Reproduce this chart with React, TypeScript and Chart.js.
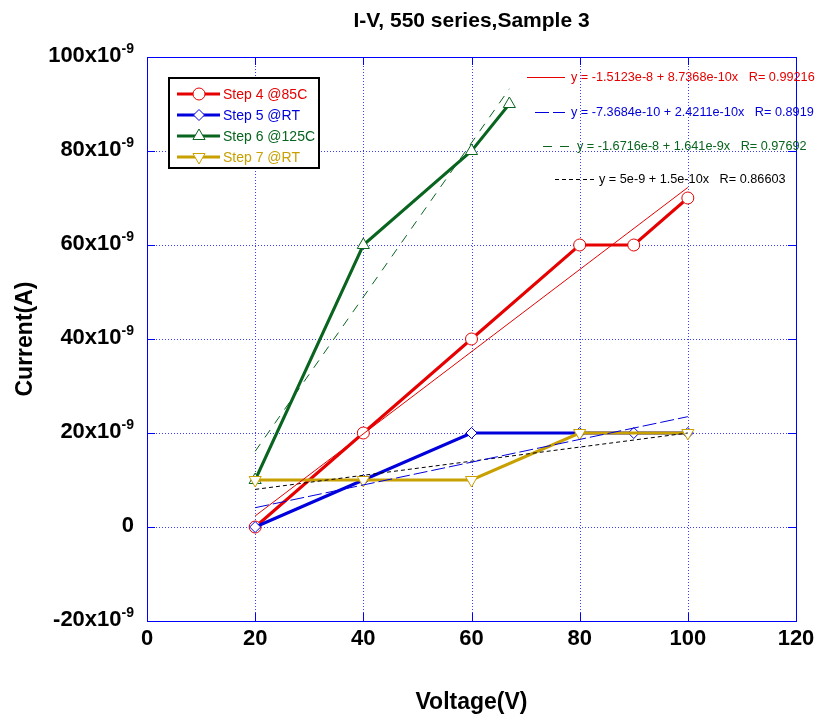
import React, { useEffect, useRef } from 'react';
import { Chart, registerables } from 'chart.js';

Chart.register(...registerables);

const chartTitle = 'I-V, 550 series,Sample 3';
const xAxisTitle = 'Voltage(V)';
const yAxisTitle = 'Current(A)';
const xTickValues = [0, 20, 40, 60, 80, 100, 120];
const yTickMantissas = [-20, 0, 20, 40, 60, 80, 100];
const yTickExponent = '-9';

const seriesNames = ['Step 4 @85C', 'Step 5 @RT', 'Step 6 @125C', 'Step 7 @RT'];
const seriesColors = ['#e60000', '#0000dc', '#08641e', '#c8a000'];
const seriesMarkers = ['circle', 'rectRot', 'triangle', 'triangle'];
const seriesMarkerRotation = [0, 0, 0, 180];
const seriesMarkerRadius = [6, 5.5, 7, 7];

const step4Voltage = [20, 40, 60, 80, 90, 100];
const step4Current = [0, 20e-9, 40e-9, 60e-9, 60e-9, 70e-9];
const step5Voltage = [20, 40, 60, 80, 90, 100];
const step5Current = [0, 10e-9, 20e-9, 20e-9, 20e-9, 20e-9];
const step6Voltage = [20, 40, 60, 67];
const step6Current = [10e-9, 60e-9, 80e-9, 90e-9];
const step7Voltage = [20, 40, 60, 80, 100];
const step7Current = [10e-9, 10e-9, 10e-9, 20e-9, 20e-9];

const fitIntercepts = [-1.5123e-8, -7.3684e-10, -1.6716e-8, 5e-9];
const fitSlopes = [8.7368e-10, 2.4211e-10, 1.641e-9, 1.5e-10];
const fitStartV = [20, 20, 20, 20];
const fitEndV = [100, 100, 67, 100];
const fitColors = ['#e60000', '#0000dc', '#08641e', '#000000'];
const fitDashes = [[], [14, 4], [9, 8], [4, 3]];
const fitLabels = [
  'y = -1.5123e-8 + 8.7368e-10x   R= 0.99216',
  'y = -7.3684e-10 + 2.4211e-10x   R= 0.8919',
  'y = -1.6716e-8 + 1.641e-9x   R= 0.97692',
  'y = 5e-9 + 1.5e-10x   R= 0.86603',
];

const FONT = '"Liberation Sans", Arial, Helvetica, sans-serif';
const GRID_COLOR = '#3c3cff';

const voltages = [step4Voltage, step5Voltage, step6Voltage, step7Voltage];
const currents = [step4Current, step5Current, step6Current, step7Current];

function drawMarker(ctx: CanvasRenderingContext2D, style: string, x: number, y: number, r: number, color: string, rotDeg: number) {
  ctx.save();
  ctx.translate(x, y);
  ctx.rotate((rotDeg * Math.PI) / 180);
  ctx.beginPath();
  if (style === 'circle') {
    ctx.arc(0, 0, r, 0, Math.PI * 2);
  } else if (style === 'rectRot') {
    ctx.moveTo(0, -r);
    ctx.lineTo(r, 0);
    ctx.lineTo(0, r);
    ctx.lineTo(-r, 0);
    ctx.closePath();
  } else {
    for (let k = 0; k < 3; k++) {
      const a = (k * 2 * Math.PI) / 3;
      const px = Math.sin(a) * r;
      const py = -Math.cos(a) * r;
      if (k === 0) ctx.moveTo(px, py);
      else ctx.lineTo(px, py);
    }
    ctx.closePath();
  }
  ctx.fillStyle = '#ffffff';
  ctx.fill();
  ctx.strokeStyle = color;
  ctx.lineWidth = 1;
  ctx.stroke();
  ctx.restore();
}

function baseLabel(m: number) {
  return m === 0 ? '0' : `${m}x10`;
}

const decorPlugin = {
  id: 'decor',
  beforeDatasetsDraw(chart: any) {
    const ctx: CanvasRenderingContext2D = chart.ctx;
    const area = chart.chartArea;
    const xs = chart.scales.x;
    const ys = chart.scales.y;
    ctx.save();
    ctx.strokeStyle = GRID_COLOR;
    ctx.lineWidth = 1;
    ctx.setLineDash([1, 2]);
    ctx.beginPath();
    xs.ticks.forEach((t: any) => {
      const px = Math.round(xs.getPixelForValue(t.value)) + 0.5;
      ctx.moveTo(px, area.top);
      ctx.lineTo(px, area.bottom);
    });
    ys.ticks.forEach((t: any) => {
      const py = Math.round(ys.getPixelForValue(t.value)) + 0.5;
      ctx.moveTo(area.left, py);
      ctx.lineTo(area.right, py);
    });
    ctx.stroke();
    ctx.restore();
  },
  afterDraw(chart: any) {
    const ctx: CanvasRenderingContext2D = chart.ctx;
    const area = chart.chartArea;
    const xs = chart.scales.x;
    const ys = chart.scales.y;
    ctx.save();

    // frame
    ctx.strokeStyle = '#0000ff';
    ctx.lineWidth = 1;
    ctx.setLineDash([]);
    ctx.strokeRect(Math.round(area.left) + 0.5, Math.round(area.top) + 0.5, Math.round(area.right - area.left), Math.round(area.bottom - area.top));

    // inward ticks
    ctx.beginPath();
    xs.ticks.forEach((t: any) => {
      const px = Math.round(xs.getPixelForValue(t.value)) + 0.5;
      ctx.moveTo(px, area.bottom);
      ctx.lineTo(px, area.bottom - 8);
      ctx.moveTo(px, area.top);
      ctx.lineTo(px, area.top + 8);
    });
    ys.ticks.forEach((t: any) => {
      const py = Math.round(ys.getPixelForValue(t.value)) + 0.5;
      ctx.moveTo(area.left, py);
      ctx.lineTo(area.left + 8, py);
      ctx.moveTo(area.right, py);
      ctx.lineTo(area.right - 8, py);
    });
    ctx.stroke();

    // x tick labels
    ctx.fillStyle = '#000000';
    ctx.font = `bold 22px ${FONT}`;
    ctx.textAlign = 'center';
    ctx.textBaseline = 'alphabetic';
    xs.ticks.forEach((t: any, i: number) => {
      const px = xs.getPixelForValue(t.value);
      const label = String(xTickValues[i] ?? Math.round(t.value));
      ctx.fillText(label, px, area.bottom + 24);
    });

    // y tick labels with superscript exponent
    ctx.textAlign = 'left';
    const rightEdge = area.left - 13;
    ys.ticks.forEach((t: any, i: number) => {
      const py = ys.getPixelForValue(t.value);
      const m = yTickMantissas[i] ?? Math.round(t.value * 1e9);
      const base = baseLabel(m);
      ctx.font = `bold 22px ${FONT}`;
      const wBase = ctx.measureText(base).width;
      let wSup = 0;
      if (m !== 0) {
        ctx.font = `bold 14px ${FONT}`;
        wSup = ctx.measureText(yTickExponent).width;
      }
      const x0 = rightEdge - wBase - wSup;
      ctx.font = `bold 22px ${FONT}`;
      ctx.fillText(base, x0, py + 5);
      if (m !== 0) {
        ctx.font = `bold 14px ${FONT}`;
        ctx.fillText(yTickExponent, x0 + wBase, py - 4);
      }
    });

    // title
    ctx.font = `bold 21px ${FONT}`;
    ctx.textAlign = 'center';
    ctx.fillText(chartTitle, (area.left + area.right) / 2, 27);

    // legend
    const lx = 169, ly = 78, lw = 150, lh = 90;
    ctx.fillStyle = '#ffffff';
    ctx.fillRect(lx, ly, lw, lh);
    ctx.strokeStyle = '#000000';
    ctx.lineWidth = 2;
    ctx.strokeRect(lx, ly, lw, lh);
    const rowYs = [94, 115, 136, 157];
    ctx.font = `14px ${FONT}`;
    ctx.textAlign = 'left';
    ctx.textBaseline = 'middle';
    seriesNames.forEach((name, i) => {
      const ry = rowYs[i];
      ctx.strokeStyle = seriesColors[i];
      ctx.lineWidth = 3;
      ctx.beginPath();
      ctx.moveTo(177, ry);
      ctx.lineTo(220, ry);
      ctx.stroke();
      drawMarker(ctx, seriesMarkers[i], 199, ry, seriesMarkerRadius[i], seriesColors[i], seriesMarkerRotation[i]);
      ctx.fillStyle = seriesColors[i];
      ctx.fillText(name, 223, ry + 1);
    });

    // fit annotations
    const annY = [77, 112, 146, 179];
    const annLineX0 = [527, 535, 543, 555];
    const annLineX1 = [565, 565, 573, 595];
    const annTextX = [571, 571, 577, 599];
    ctx.font = `12.7px ${FONT}`;
    fitLabels.forEach((txt, i) => {
      ctx.strokeStyle = fitColors[i];
      ctx.lineWidth = 1;
      ctx.setLineDash(fitDashes[i]);
      ctx.beginPath();
      ctx.moveTo(annLineX0[i], annY[i] + 0.5);
      ctx.lineTo(annLineX1[i], annY[i] + 0.5);
      ctx.stroke();
      ctx.setLineDash([]);
      ctx.fillStyle = fitColors[i];
      ctx.fillText(txt, annTextX[i], annY[i]);
    });

    ctx.restore();
  },
};

export default function App() {
  const ref = useRef<HTMLCanvasElement | null>(null);
  useEffect(() => {
    if (!ref.current) return;
    const dataSets: any[] = [];
    // fit lines, drawn on top of the data
    fitIntercepts.forEach((a, i) => {
      const b = fitSlopes[i];
      dataSets.push({
        label: 'fit ' + seriesNames[i],
        data: [
          { x: fitStartV[i], y: a + b * fitStartV[i] },
          { x: fitEndV[i], y: a + b * fitEndV[i] },
        ],
        showLine: true,
        borderColor: fitColors[i],
        borderWidth: 1,
        borderDash: fitDashes[i],
        pointRadius: 0,
        order: 0,
      });
    });
    seriesNames.forEach((name, i) => {
      dataSets.push({
        label: name,
        data: voltages[i].map((v, k) => ({ x: v, y: currents[i][k] })),
        showLine: true,
        borderColor: seriesColors[i],
        borderWidth: 3,
        pointStyle: seriesMarkers[i],
        pointRotation: seriesMarkerRotation[i],
        pointRadius: seriesMarkerRadius[i],
        pointBackgroundColor: '#ffffff',
        pointBorderColor: seriesColors[i],
        pointBorderWidth: 1,
        order: 4 - i,
      });
    });
    const chart = new Chart(ref.current, {
      type: 'scatter',
      data: { datasets: dataSets },
      options: {
        responsive: false,
        animation: false,
        events: [],
        layout: { padding: { top: 57, right: 22, left: 0, bottom: 0 } },
        plugins: { legend: { display: false }, tooltip: { enabled: false }, title: { display: false } },
        scales: {
          x: {
            type: 'linear',
            min: 0,
            max: 120,
            ticks: { stepSize: 20, display: false },
            grid: { display: false },
            border: { display: false },
            title: { display: true, text: xAxisTitle, color: '#000', font: { family: FONT, size: 23, weight: 'bold' }, padding: { top: 0, bottom: 5 } },
            afterFit: (s: any) => { s.height = 100; },
          },
          y: {
            type: 'linear',
            min: -20e-9,
            max: 100e-9,
            ticks: { stepSize: 20e-9, display: false },
            grid: { display: false },
            border: { display: false },
            title: { display: true, text: yAxisTitle, color: '#000', font: { family: FONT, size: 23, weight: 'bold' }, padding: { top: 12, bottom: 0 } },
            afterFit: (s: any) => { s.width = 147; },
          },
        },
      },
      plugins: [decorPlugin],
    } as any);
    return () => chart.destroy();
  }, []);
  return (
    <div style={{ position: 'fixed', left: 0, top: 0, width: 818, height: 721, background: '#fff' }}>
      <canvas ref={ref} width={818} height={721} style={{ display: 'block', width: 818, height: 721 }} />
    </div>
  );
}
